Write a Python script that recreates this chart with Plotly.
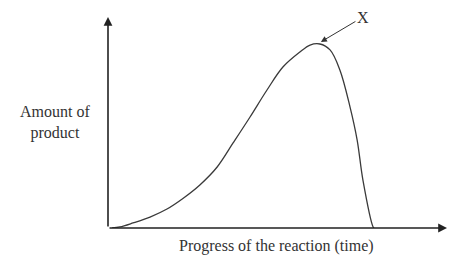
import plotly.graph_objects as go

# Data (time vs amount of product)
time = [0.12, 0.35, 0.74, 1.24, 1.74, 2.21, 2.71, 3.22, 3.69, 4.19, 4.69, 5.16,
        5.66, 5.96, 6.25, 6.55, 6.84, 7.14, 7.35, 7.52, 7.82, 7.85]
amount = [0.0, 0.05, 0.24, 0.52, 0.90, 1.40, 2.04, 2.89, 4.03, 5.26, 6.54, 7.63,
          8.34, 8.67, 8.72, 8.44, 7.49, 5.73, 4.17, 2.27, 0.05, 0.0]
x_title = "Progress of the reaction (time)"
y_title = "Amount of<br>product"
point_label = "X"
point_x, point_y = 6.28, 8.82
label_x, label_y = 7.52, 10.0

FONT = "Times New Roman, Liberation Serif, DejaVu Serif, serif"

fig = go.Figure()
fig.add_trace(go.Scatter(x=time, y=amount, mode="lines",
                         line=dict(color="#3a3a3a", width=1.3, shape="spline", smoothing=1.0),
                         hoverinfo="skip", showlegend=False))

annotations = [
    # y axis arrow
    dict(x=0, y=10, ax=0, ay=0, xref="x", yref="y", axref="x", ayref="y",
         showarrow=True, arrowhead=2, arrowsize=1.1, arrowwidth=1.6, arrowcolor="#222", text=""),
    # x axis arrow
    dict(x=10, y=0, ax=0, ay=0, xref="x", yref="y", axref="x", ayref="y",
         showarrow=True, arrowhead=2, arrowsize=1.1, arrowwidth=1.6, arrowcolor="#222", text=""),
    # X pointer
    dict(x=point_x, y=point_y, ax=label_x, ay=label_y, xref="x", yref="y", axref="x", ayref="y",
         showarrow=True, arrowhead=2, arrowsize=1.2, arrowwidth=1.0, arrowcolor="#333",
         text=point_label, font=dict(family=FONT, size=16, color="#333")),
    # y title
    dict(x=0, y=0.502, xref="paper", yref="paper", xanchor="center", yanchor="middle",
         xshift=-53, showarrow=False, text=y_title,
         font=dict(family=FONT, size=16, color="#333"), align="center"),
    # x title
    dict(x=0.496, y=0, xref="paper", yref="paper", xanchor="center", yanchor="middle",
         yshift=-18, showarrow=False,
         text=x_title, font=dict(family=FONT, size=16, color="#333")),
]

fig.update_layout(
    width=447, height=248,
    margin=dict(l=100, r=8, t=9, b=28),
    font=dict(family=FONT),
    paper_bgcolor="white", plot_bgcolor="white",
    xaxis=dict(range=[0, 10], showgrid=False, zeroline=False, showticklabels=False, ticks="",
               showline=False, fixedrange=True),
    yaxis=dict(range=[0, 10], showgrid=False, zeroline=False, showticklabels=False, ticks="",
               showline=False, fixedrange=True),
    annotations=annotations,
)

fig.write_html("out.html")
